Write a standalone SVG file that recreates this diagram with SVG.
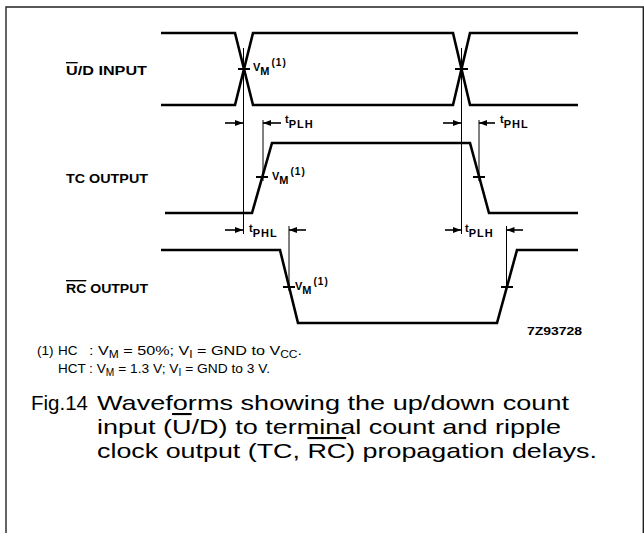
<svg xmlns="http://www.w3.org/2000/svg" width="644" height="533" viewBox="0 0 644 533">
<defs>
<marker id="ah" viewBox="0 0 8 6" refX="8" refY="3" markerWidth="8" markerHeight="6" markerUnits="userSpaceOnUse" orient="auto">
<path d="M0,0 L8,3 L0,6 z" fill="#000"/>
</marker>
</defs>
<style>
.frame{fill:none;stroke:#222;stroke-width:1.4}
.wave{fill:none;stroke:#000;stroke-width:2.6;stroke-linejoin:miter}
.ref{fill:none;stroke:#000;stroke-width:1}
.tick{stroke:#000;stroke-width:2}
.arr{stroke:#000;stroke-width:1.6;marker-end:url(#ah)}
.lbl{font-family:"Liberation Sans",Arial,sans-serif;font-size:13.5px;font-weight:bold;fill:#000}
.sm{font-family:"Liberation Sans",Arial,sans-serif;font-size:11px;font-weight:bold;fill:#000}
.sub{font-size:11px;letter-spacing:1px}
.sup{font-size:10px;letter-spacing:1px}
.note{font-family:"Liberation Sans",Arial,sans-serif;font-size:13.5px;fill:#000}
.ns{font-size:10px}
.cap{font-family:"Liberation Sans",Arial,sans-serif;font-size:21px;fill:#000}
.ov{text-decoration:overline}
</style>
<g id="frame">
<path class="frame" d="M6,533 V7 H643.3 V533"/>
</g>
<g id="ud-input">
<text class="lbl" x="66" y="75" textLength="81" lengthAdjust="spacingAndGlyphs"><tspan class="ov">U</tspan>/D INPUT</text>
<path class="wave" d="M161,33 H235 L253,105 H453 L470,33 H578"/>
<path class="wave" d="M161,105 H235 L253,33 H453 L470,105 H578"/>
<line class="tick" x1="238" y1="69" x2="250" y2="69"/>
<line class="tick" x1="455" y1="69" x2="468" y2="69"/>
<text class="sm" x="253" y="71">V<tspan class="sub" dy="4">M</tspan><tspan class="sup" dx="1" dy="-9">(1)</tspan></text>
</g>
<g id="tc-output">
<text class="lbl" x="66" y="183" textLength="82" lengthAdjust="spacingAndGlyphs">TC OUTPUT</text>
<path class="wave" d="M165,213 H252 L272,143 H470 L489,213 H578"/>
<line class="tick" x1="256" y1="177" x2="268" y2="177"/>
<line class="tick" x1="473" y1="177" x2="485" y2="177"/>
<text class="sm" x="272" y="180">V<tspan class="sub" dy="4">M</tspan><tspan class="sup" dx="1" dy="-9">(1)</tspan></text>
</g>
<g id="rc-output">
<text class="lbl" x="66" y="293" textLength="82" lengthAdjust="spacingAndGlyphs"><tspan class="ov">RC</tspan> OUTPUT</text>
<path class="wave" d="M161,250 H280 L298,323 H497 L517,250 H578"/>
<line class="tick" x1="283" y1="287" x2="295" y2="287"/>
<line class="tick" x1="501" y1="287" x2="513" y2="287"/>
<text class="sm" x="295" y="290">V<tspan class="sub" dy="4">M</tspan><tspan class="sup" dx="1" dy="-9">(1)</tspan></text>
<text class="sm" x="527" y="335" textLength="55" lengthAdjust="spacingAndGlyphs">7Z93728</text>
</g>
<g id="connectors">
<line class="ref" x1="243.5" y1="48" x2="243.5" y2="234"/>
<line class="ref" x1="461.5" y1="48" x2="461.5" y2="234"/>
<line class="ref" x1="263" y1="120" x2="263" y2="181"/>
<line class="ref" x1="479" y1="120" x2="479" y2="181"/>
<line class="ref" x1="289" y1="226" x2="289" y2="291"/>
<line class="ref" x1="506.5" y1="226" x2="506.5" y2="291"/>
<line class="arr" x1="225" y1="123" x2="243" y2="123"/>
<line class="arr" x1="281" y1="123" x2="263" y2="123"/>
<line class="arr" x1="443" y1="123" x2="461" y2="123"/>
<line class="arr" x1="495" y1="123" x2="479" y2="123"/>
<line class="arr" x1="225" y1="230" x2="243" y2="230"/>
<line class="arr" x1="306" y1="230" x2="289" y2="230"/>
<line class="arr" x1="445" y1="230" x2="461" y2="230"/>
<line class="arr" x1="523" y1="230" x2="506.5" y2="230"/>
<text class="sm" x="285" y="123">t<tspan class="sub" dy="5">PLH</tspan></text>
<text class="sm" x="500" y="123">t<tspan class="sub" dy="5">PHL</tspan></text>
<text class="sm" x="249" y="232">t<tspan class="sub" dy="5">PHL</tspan></text>
<text class="sm" x="465" y="232">t<tspan class="sub" dy="5">PLH</tspan></text>
</g>
<g id="notes">
<text class="note" x="37" y="355">(1)</text>
<text class="note" x="58" y="355">HC</text>
<text class="note" x="89" y="355" textLength="213" lengthAdjust="spacingAndGlyphs">: V<tspan class="ns" dy="3">M</tspan><tspan dy="-3"> = 50%; V</tspan><tspan class="ns" dy="3">I</tspan><tspan dy="-3"> = GND to V</tspan><tspan class="ns" dy="3">CC</tspan><tspan dy="-3">.</tspan></text>
<text class="note" x="58" y="373">HCT</text>
<text class="note" x="89" y="373" textLength="181" lengthAdjust="spacingAndGlyphs">: V<tspan class="ns" dy="3">M</tspan><tspan dy="-3"> = 1.3 V; V</tspan><tspan class="ns" dy="3">I</tspan><tspan dy="-3"> = GND to 3 V.</tspan></text>
</g>
<g id="caption">
<text class="cap" x="31" y="410" textLength="57" lengthAdjust="spacingAndGlyphs">Fig.14</text>
<text class="cap" x="97" y="410" textLength="472" lengthAdjust="spacingAndGlyphs">Waveforms showing the up/down count</text>
<text class="cap" x="97" y="434" textLength="464" lengthAdjust="spacingAndGlyphs">input (<tspan class="ov">U</tspan>/D) to terminal count and ripple</text>
<text class="cap" x="97" y="458" textLength="500" lengthAdjust="spacingAndGlyphs">clock output (TC, <tspan class="ov">RC</tspan>) propagation delays.</text>
</g>
</svg>
